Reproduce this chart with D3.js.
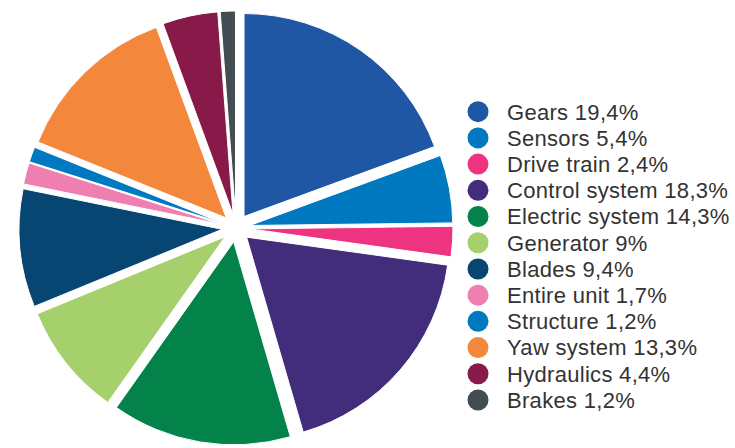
<!DOCTYPE html>
<html>
<head>
<meta charset="utf-8">
<script src="https://cdn.jsdelivr.net/npm/d3@7"></script>
<style>
  html, body { margin: 0; padding: 0; background: #fff; }
  svg { display: block; }
</style>
</head>
<body>
<svg id="chart" width="735" height="448"></svg>
<script>
const categories = ["Gears", "Sensors", "Drive train", "Control system", "Electric system", "Generator", "Blades", "Entire unit", "Structure", "Yaw system", "Hydraulics", "Brakes"];
const values = [19.4, 5.4, 2.4, 18.3, 14.3, 9, 9.4, 1.7, 1.2, 13.3, 4.4, 1.2];
const colors = ["#1f57a5", "#0079c1", "#ee3480", "#412d7b", "#03824a", "#a6d06b", "#074572", "#ef7fb1", "#0079c1", "#f3873b", "#881a4a", "#434d51"];

const data = categories.map((c, i) => ({ name: c, value: values[i], color: colors[i] }));

const svg = d3.select("#chart");
const cx = 236, cy = 228, R = 203, explode = 14;

const pie = d3.pie().value(d => d.value).sort(null);
const arc = d3.arc().innerRadius(0).outerRadius(R);
const arcs = pie(data);

const g = svg.append("g").attr("transform", `translate(${cx},${cy})`);
g.selectAll("path")
  .data(arcs)
  .join("path")
  .attr("d", arc)
  .attr("fill", d => d.data.color)
  .attr("stroke", "#fff")
  .attr("stroke-width", 1)
  .attr("transform", d => {
    const a = (d.startAngle + d.endAngle) / 2;
    return `translate(${explode * Math.sin(a)},${-explode * Math.cos(a)})`;
  });

// Legend
const fmt = v => String(v).replace(".", ",");
const legendY = d3.scalePoint().domain(categories).range([111.7, 400]);
const legend = svg.append("g");
const items = legend.selectAll("g")
  .data(data)
  .join("g")
  .attr("transform", d => `translate(478,${legendY(d.name)})`);
items.append("circle")
  .attr("r", 10.5)
  .attr("fill", d => d.color);
items.append("text")
  .attr("x", 29)
  .attr("y", 7.8)
  .attr("font-family", "Liberation Sans, Arial, Helvetica, sans-serif")
  .attr("font-size", 22)
  .attr("letter-spacing", 0.3)
  .attr("fill", "#333333")
  .text(d => `${d.name} ${fmt(d.value)}%`);
</script>
</body>
</html>
